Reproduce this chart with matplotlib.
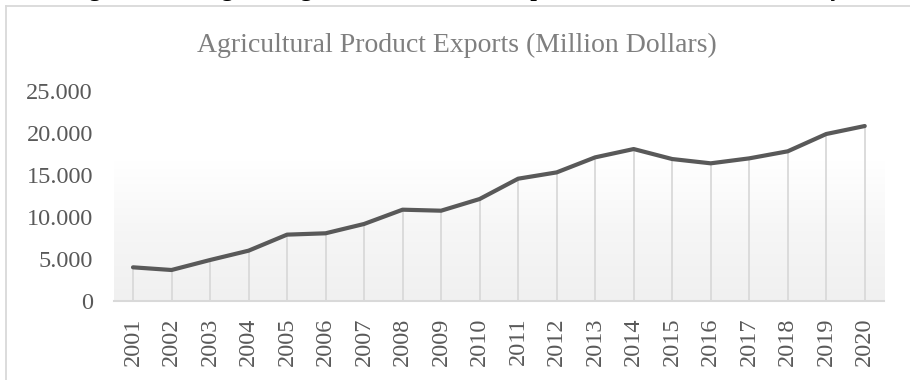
import numpy as np
import matplotlib.pyplot as plt
from matplotlib.colors import LinearSegmentedColormap
from matplotlib.lines import Line2D
from matplotlib.ticker import FuncFormatter

# Agricultural product exports of Turkey, million dollars
years = ['2001', '2002', '2003', '2004', '2005', '2006', '2007', '2008', '2009', '2010',
         '2011', '2012', '2013', '2014', '2015', '2016', '2017', '2018', '2019', '2020']
exports = [4010, 3690, 4880, 5990, 7900, 8060, 9170, 10870, 10750, 12140,
           14560, 15310, 17100, 18090, 16900, 16390, 16980, 17820, 19880, 20830]

plt.rcParams['font.family'] = ['Liberation Serif', 'DejaVu Serif']

fig = plt.figure(figsize=(9.1, 3.8), dpi=100)
ax = fig.add_axes([113.75 / 910, 1 - 301 / 380, (884 - 113.75) / 910, 210 / 380])

x = np.arange(len(years))

# soft grey-to-white fill of the plot area (grey at the bottom)
grad = np.linspace(0.0, 1.0, 256).reshape(-1, 1)
cmap = LinearSegmentedColormap.from_list('fade', ['#f0f0f0', '#f6f6f6', '#ffffff', '#ffffff'])
ax.imshow(grad, cmap=cmap, extent=[-0.5, len(years) - 0.5, 0, 25000], aspect='auto',
          zorder=0, origin='lower', vmin=0, vmax=1)

ax.vlines(x, 0, exports, color='#d9d9d9', linewidth=1.3, zorder=1)
ax.plot(x, exports, color='#595959', linewidth=3, solid_joinstyle='round',
        solid_capstyle='round', zorder=3)

ax.set_xlim(-0.5, len(years) - 0.5)
ax.set_ylim(0, 25000)
ax.set_yticks(range(0, 25001, 5000))
ax.yaxis.set_major_formatter(FuncFormatter(lambda v, p: f'{int(v):,}'.replace(',', '.')))
ax.set_xticks(x)
ax.set_xticklabels(years, rotation=90)

for s in ['top', 'right', 'left']:
    ax.spines[s].set_visible(False)
ax.spines['bottom'].set_color('#d9d9d9')
ax.spines['bottom'].set_linewidth(1.5)
ax.spines['bottom'].set_zorder(2)
ax.tick_params(axis='both', length=0, labelsize=17.5, colors='#595959')
ax.tick_params(axis='y', pad=15)
ax.tick_params(axis='x', pad=12)

fig.text(0.502, 1 - 45 / 380, 'Agricultural Product Exports (Million Dollars)',
         ha='center', va='center', fontsize=20, color='#7f7f7f')

# chart frame
fig.add_artist(Line2D([6 / 910, 1], [1 - 6 / 380, 1 - 6 / 380], color='#d9d9d9', linewidth=1.3))
fig.add_artist(Line2D([6 / 910, 6 / 910], [0, 1 - 6 / 380], color='#d9d9d9', linewidth=1.3))

# figure caption sitting above the frame
fig.text(0.5, 1 + 3.5 / 380, 'Figure 4: Changes in Agricultural Product Exports Over the Years in Turkey',
         ha='center', va='baseline', fontsize=17, fontweight='bold', color='black')

fig.savefig('out.png', dpi=100)
